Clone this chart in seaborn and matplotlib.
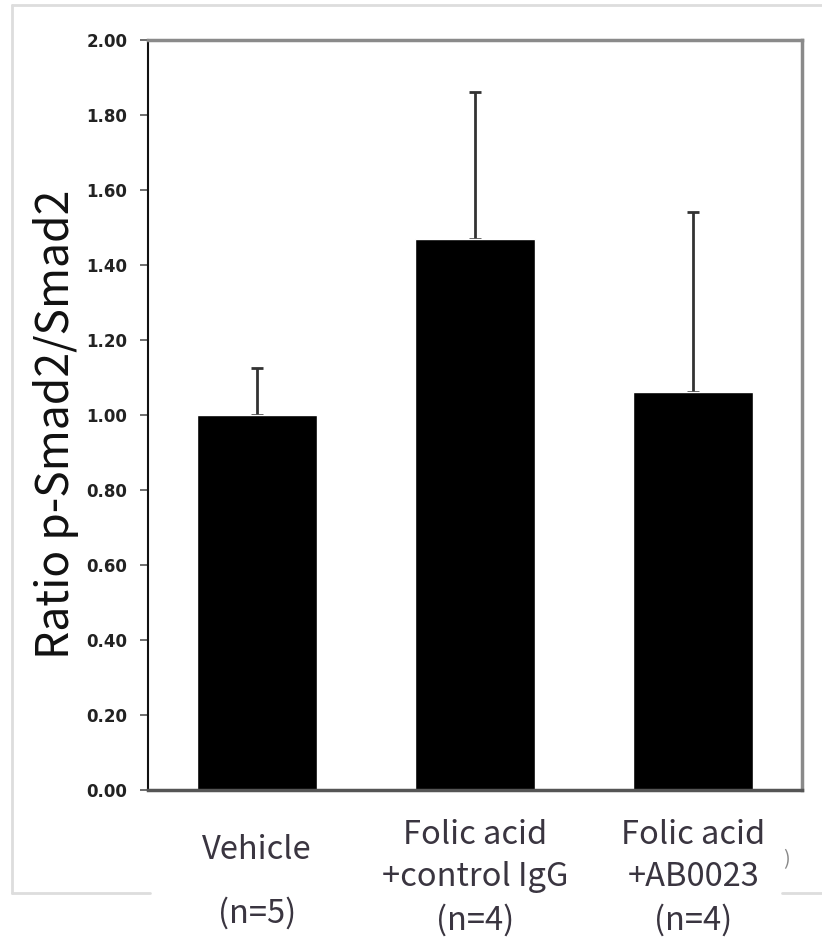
import matplotlib
matplotlib.use("Agg")
import matplotlib.pyplot as plt
import seaborn as sns
import pandas as pd
from matplotlib.lines import Line2D

groups = ["Vehicle", "Folic acid +control IgG", "Folic acid +AB0023"]
label_lines = [["Vehicle", "(n=5)"],
               ["Folic acid", "+control IgG", "(n=4)"],
               ["Folic acid", "+AB0023", "(n=4)"]]
means = [1.00, 1.47, 1.06]
err_up = [0.125, 0.39, 0.48]
yticks = [0.0, 0.2, 0.4, 0.6, 0.8, 1.0, 1.2, 1.4, 1.6, 1.8, 2.0]

df = pd.DataFrame({"group": groups, "ratio": means})

sns.set_style("white")
plt.rcParams["font.family"] = ["Noto Sans CJK KR", "DejaVu Sans"]

fig = plt.figure(figsize=(8.22, 9.49), dpi=100)
ax = fig.add_axes([0.180, 0.1675, 0.796, 0.7905])

sns.barplot(data=df, x="group", y="ratio", color="black", width=0.55,
            errorbar=None, saturation=1, ax=ax, zorder=2)
ax.errorbar(range(len(means)), means, yerr=[[0] * len(means), err_up],
            fmt="none", ecolor="#333333", elinewidth=2, capsize=4.5,
            capthick=2, zorder=1)

ax.set_xlim(-0.5, 2.5)
ax.set_ylim(0, 2.0)
ax.set_yticks(yticks)
ax.set_yticklabels([f"{v:.2f}" for v in yticks], fontsize=12, color="#222222",
                   family=["DejaVu Sans"], fontweight="semibold")
ax.tick_params(axis="y", length=6, width=1.2, color="#555555", pad=9, left=True)
ax.tick_params(axis="x", length=0)
ax.set_xticklabels([])
ax.set_xlabel("")
ax.set_ylabel("Ratio p-Smad2/Smad2", fontsize=32, color="#111111", labelpad=5)
ax.yaxis.label.set_y(0.487)

for side in ["top", "right"]:
    ax.spines[side].set_color("#8a8a8a")
    ax.spines[side].set_linewidth(2.5)
ax.spines["left"].set_color("#111111")
ax.spines["left"].set_linewidth(1.5)
ax.spines["bottom"].set_color("#555555")
ax.spines["bottom"].set_linewidth(2.5)

trans = ax.get_xaxis_transform()
label_y = [[-0.080, -0.164], [-0.060, -0.116, -0.173], [-0.060, -0.116, -0.173]]
for i, lines in enumerate(label_lines):
    for txt, yy in zip(lines, label_y[i]):
        ax.text(i, yy, txt, transform=trans, ha="center", va="center",
                fontsize=23.5, color="#3a3540")

# faint frame of the screenshot
frame = "#dddddd"
W, H = 822, 949
def fl(x0, y0, x1, y1):
    fig.add_artist(Line2D([x0 / W, x1 / W], [1 - y0 / H, 1 - y1 / H],
                          color=frame, lw=2, transform=fig.transFigure))
fl(12, 5, 822, 5)
fl(12, 5, 12, 893)
fl(12, 893, 150, 893)
fl(782, 893, 822, 893)
fig.text(786 / W, 1 - 860 / H, ")", fontsize=14, color="#888888",
         ha="center", va="center")

fig.savefig("out.png", dpi=100, facecolor="white")
